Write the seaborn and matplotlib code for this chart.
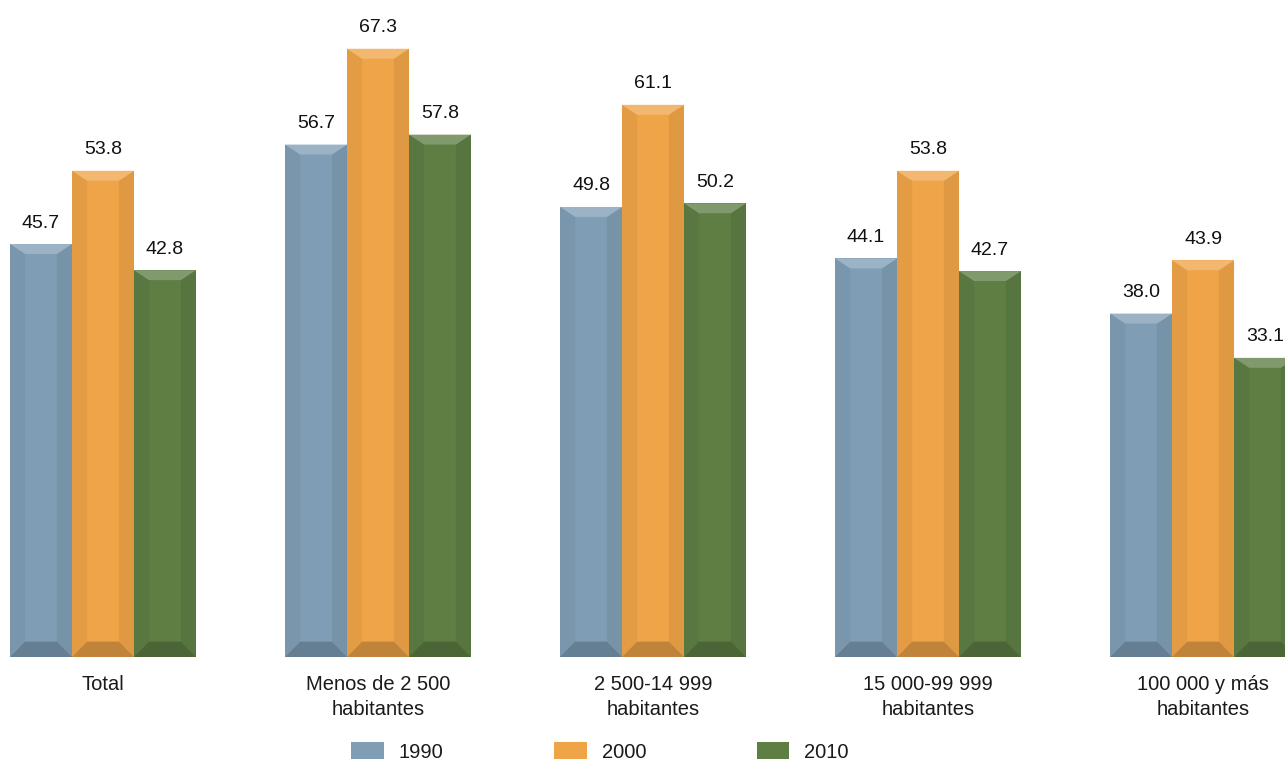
import matplotlib
matplotlib.use("Agg")
import matplotlib.pyplot as plt
import matplotlib.patches as mpatches
import pandas as pd
import seaborn as sns

categories = ["Total", "Menos de 2 500\nhabitantes", "2 500-14 999\nhabitantes",
              "15 000-99 999\nhabitantes", "100 000 y más\nhabitantes"]
years = ["1990", "2000", "2010"]
values_1990 = [45.7, 56.7, 49.8, 44.1, 38.0]
values_2000 = [53.8, 67.3, 61.1, 53.8, 43.9]
values_2010 = [42.8, 57.8, 50.2, 42.7, 33.1]
colors = ["#7F9EB5", "#F0A448", "#5E7E44"]


def shade(color, f):
    r, g, b = matplotlib.colors.to_rgb(color)
    if f >= 0:
        return (r + (1 - r) * f, g + (1 - g) * f, b + (1 - b) * f)
    return (r * (1 + f), g * (1 + f), b * (1 + f))


rows = []
for year, vals in zip(years, [values_1990, values_2000, values_2010]):
    for cat, v in zip(categories, vals):
        rows.append({"Categoria": cat, "Año": year, "Valor": v})
df = pd.DataFrame(rows)

sns.set_style("white")
plt.rcParams["font.family"] = ["Liberation Sans", "DejaVu Sans"]

fig = plt.figure(figsize=(12.85, 7.63), dpi=100)
ax = fig.add_axes([0, 1 - 657 / 763, 1, 657 / 763])
sns.barplot(data=df, x="Categoria", y="Valor", hue="Año", order=categories,
            hue_order=years, palette=colors, width=0.676, gap=0, saturation=1,
            linewidth=0, legend=False, ax=ax)

ax.set_xlim(-0.3745, 4.298)
ax.set_ylim(0, 72.7)

# soft bevel on each bar
bx = 0.055
by_top = 1.1
by_bot = 1.7
for patch in ax.patches[:]:
    x0 = patch.get_x()
    w = patch.get_width()
    h = patch.get_height()
    if h <= 0:
        continue
    c = matplotlib.colors.to_hex(patch.get_facecolor())
    x1 = x0 + w
    pieces = [
        ([(x0, 0), (x0 + bx, by_bot), (x0 + bx, h - by_top), (x0, h)], shade(c, -0.05)),
        ([(x1, 0), (x1 - bx, by_bot), (x1 - bx, h - by_top), (x1, h)], shade(c, -0.07)),
        ([(x0, h), (x1, h), (x1 - bx, h - by_top), (x0 + bx, h - by_top)], shade(c, 0.22)),
        ([(x0, 0), (x1, 0), (x1 - bx, by_bot), (x0 + bx, by_bot)], shade(c, -0.2)),
    ]
    for pts, fc in pieces:
        ax.add_patch(mpatches.Polygon(pts, closed=True, facecolor=fc,
                                      edgecolor="none", zorder=3))
    ax.annotate(f"{h:.1f}", (x0 + w / 2, h), xytext=(0, 9), textcoords="offset points",
                ha="center", va="bottom", fontsize=14, color="#111111",
                annotation_clip=False)

ax.set_xlabel("")
ax.set_ylabel("")
ax.set_yticks([])
ax.set_xticks(range(len(categories)))
ax.set_xticklabels(categories, fontsize=14.5, color="#1a1a1a", linespacing=1.38)
ax.tick_params(axis="x", length=0, pad=13)
for s in ax.spines.values():
    s.set_visible(False)

handles = [mpatches.Patch(facecolor=c, edgecolor="none", label=y) for c, y in zip(colors, years)]
fig.legend(handles=handles, loc="center", bbox_to_anchor=(0.467, 1 - 752 / 763), ncol=3,
           frameon=False, fontsize=14.5, handlelength=1.6, handleheight=0.9,
           handletextpad=0.75, columnspacing=5.5, borderpad=0, labelcolor="#1a1a1a")

fig.savefig("out.png", dpi=100)
